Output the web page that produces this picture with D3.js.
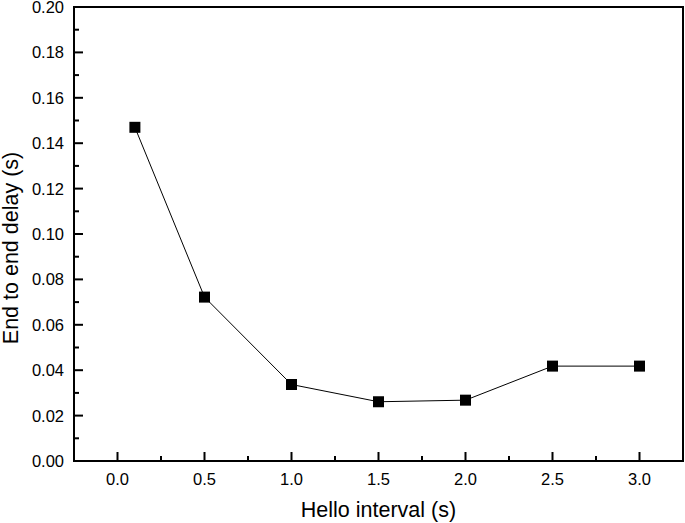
<!DOCTYPE html>
<html><head><meta charset="utf-8">
<script src="https://cdn.jsdelivr.net/npm/d3@7"></script>
<style>body{margin:0;background:#fff}svg{display:block}text{font-family:"Liberation Sans",Arial,sans-serif;fill:#000}</style>
</head><body>
<script>
const xValues = [0.1, 0.5, 1.0, 1.5, 2.0, 2.5, 3.0];
const delayValues = [0.147, 0.0722, 0.0337, 0.0261, 0.0268, 0.0418, 0.0418];
const xTicks = [0.0, 0.5, 1.0, 1.5, 2.0, 2.5, 3.0];
const yTicks = [0.00, 0.02, 0.04, 0.06, 0.08, 0.10, 0.12, 0.14, 0.16, 0.18, 0.20];
const xLabel = "Hello interval (s)";
const yLabel = "End to end delay (s)";

const W = 685, H = 523;
const L = 74, R = 683, T = 7, B = 461;
const svg = d3.select("body").append("svg").attr("width", W).attr("height", H);
const x = d3.scaleLinear().domain([-0.25, 3.25]).range([L, R]);
const y = d3.scaleLinear().domain([0, 0.20]).range([B, T]);

const xMinor = [0.25, 0.75, 1.25, 1.75, 2.25, 2.75];
const yMinor = d3.range(0.01, 0.2, 0.02);

const g = svg.append("g");
g.selectAll(".xmaj").data(xTicks).join("line")
  .attr("x1", d => x(d)).attr("x2", d => x(d)).attr("y1", B).attr("y2", B - 9)
  .attr("stroke", "#000").attr("stroke-width", 2);
g.selectAll(".xmin").data(xMinor).join("line")
  .attr("x1", d => x(d)).attr("x2", d => x(d)).attr("y1", B).attr("y2", B - 5)
  .attr("stroke", "#000").attr("stroke-width", 2);
g.selectAll(".ymaj").data(yTicks).join("line")
  .attr("x1", L).attr("x2", L + 9).attr("y1", d => y(d)).attr("y2", d => y(d))
  .attr("stroke", "#000").attr("stroke-width", 2);
g.selectAll(".ymin").data(yMinor).join("line")
  .attr("x1", L).attr("x2", L + 5).attr("y1", d => y(d)).attr("y2", d => y(d))
  .attr("stroke", "#000").attr("stroke-width", 2);

svg.append("rect").attr("x", L).attr("y", T).attr("width", R - L).attr("height", B - T)
  .attr("fill", "none").attr("stroke", "#000").attr("stroke-width", 2);

svg.selectAll(".xl").data(xTicks).join("text")
  .attr("x", d => x(d)).attr("y", B + 24).attr("text-anchor", "middle")
  .attr("font-size", 16.5).text(d => d.toFixed(1));
svg.selectAll(".yl").data(yTicks).join("text")
  .attr("x", L - 10).attr("y", d => y(d) + 6).attr("text-anchor", "end")
  .attr("font-size", 16.5).text(d => d.toFixed(2));

svg.append("text").attr("x", (L + R) / 2).attr("y", 517).attr("text-anchor", "middle")
  .attr("font-size", 21.5).text(xLabel);
svg.append("text").attr("transform", `translate(18,248) rotate(-90)`)
  .attr("text-anchor", "middle").attr("font-size", 21.5).text(yLabel);

const data = xValues.map((v, i) => [v, delayValues[i]]);
svg.append("path").datum(data)
  .attr("d", d3.line().x(d => x(d[0])).y(d => y(d[1])))
  .attr("fill", "none").attr("stroke", "#000").attr("stroke-width", 1);
svg.selectAll(".pt").data(data).join("rect")
  .attr("x", d => x(d[0]) - 5.5).attr("y", d => y(d[1]) - 5.5)
  .attr("width", 11).attr("height", 11).attr("fill", "#000");
</script>
</body></html>
